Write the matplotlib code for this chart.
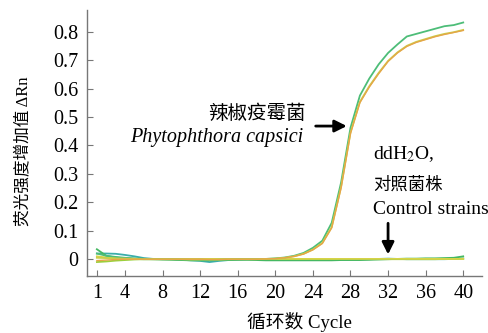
import matplotlib
matplotlib.use('Agg')
import matplotlib.pyplot as plt

plt.rcParams['font.family'] = ['Liberation Serif', 'Noto Sans CJK SC']
plt.rcParams['mathtext.fontset'] = 'stix'

# cycles 1..40
cycles = list(range(1, 41))

# amplification curves (Phytophthora capsici)
green_amp = [0.020, 0.012, 0.008, 0.005, 0.003, 0.001, 0.000, 0.000, 0.000, -0.001,
             -0.002, -0.002, -0.003, -0.002, -0.001, 0.000, 0.000, 0.000, 0.001, 0.003,
             0.006, 0.012, 0.022, 0.040, 0.065, 0.128, 0.270, 0.462, 0.575, 0.635,
             0.685, 0.725, 0.755, 0.783, 0.792, 0.801, 0.810, 0.819, 0.823, 0.832]
yellow_amp = [0.005, 0.004, 0.003, 0.002, 0.001, 0.000, 0.000, 0.000, 0.000, 0.000,
              -0.001, -0.001, -0.001, -0.001, 0.000, 0.000, 0.000, 0.000, 0.001, 0.002,
              0.005, 0.010, 0.019, 0.034, 0.057, 0.113, 0.255, 0.445, 0.553, 0.608,
              0.655, 0.697, 0.727, 0.750, 0.764, 0.774, 0.784, 0.792, 0.798, 0.806]
orange_amp = [-0.005, -0.003, -0.001, 0.000, 0.000, 0.000, 0.000, 0.000, 0.000, 0.000,
              0.000, 0.000, -0.001, -0.001, 0.000, 0.000, 0.000, 0.000, 0.001, 0.002,
              0.005, 0.010, 0.018, 0.033, 0.055, 0.110, 0.250, 0.442, 0.550, 0.605,
              0.652, 0.695, 0.725, 0.748, 0.762, 0.772, 0.782, 0.790, 0.797, 0.804]

# controls (ddH2O / control strains)
ctrl_teal = [0.020, 0.020, 0.019, 0.015, 0.010, 0.004, 0.001, 0.000, 0.000, -0.002,
             -0.004, -0.006, -0.010, -0.006, -0.003, -0.002, -0.001, 0.000, 0.000, -0.002,
             -0.003, -0.003, -0.003, -0.003, -0.002, -0.002, -0.001, 0.000, 0.000, 0.000,
             0.001, 0.002, 0.001, 0.000, 0.000, 0.000, 0.000, 0.000, 0.001, 0.002]
ctrl_green = [0.035, 0.012, 0.006, 0.003, 0.001, 0.000, 0.000, -0.001, -0.002, -0.003,
              -0.004, -0.004, -0.004, -0.003, -0.003, -0.002, -0.002, -0.003, -0.004, -0.004,
              -0.004, -0.004, -0.004, -0.004, -0.004, -0.004, -0.003, -0.003, -0.003, -0.002,
              -0.001, 0.000, 0.001, 0.002, 0.002, 0.003, 0.003, 0.004, 0.005, 0.010]
ctrl_lime = [-0.010, -0.008, -0.005, -0.003, -0.001, 0.000, 0.000, 0.000, 0.000, 0.000,
             0.000, 0.000, 0.000, 0.000, 0.000, 0.000, 0.000, 0.000, 0.000, 0.000,
             0.000, 0.000, 0.000, 0.000, 0.000, 0.000, 0.000, 0.000, 0.000, 0.000,
             0.000, 0.000, 0.000, 0.000, 0.000, 0.000, 0.000, 0.001, 0.001, 0.002]
ctrl_yellow = [0.010, 0.006, 0.004, 0.002, 0.001, 0.001, 0.001, 0.001, 0.001, 0.001,
               0.001, 0.001, 0.001, 0.001, 0.001, 0.001, 0.001, 0.001, 0.001, 0.001,
               0.001, 0.001, 0.001, 0.001, 0.001, 0.001, 0.001, 0.001, 0.001, 0.001,
               0.001, 0.001, 0.001, 0.001, 0.001, 0.001, 0.001, 0.001, 0.001, 0.001]

xticks = [1, 4, 8, 12, 16, 20, 24, 28, 32, 36, 40]
yticks = [0, 0.1, 0.2, 0.3, 0.4, 0.5, 0.6, 0.7, 0.8]

fig = plt.figure(figsize=(4.88, 3.33), dpi=100)
ax = fig.add_axes([0.1783, 0.1712, 0.8094, 0.7988])

ax.plot(cycles, ctrl_teal, color='#3aaeaa', lw=1.3)
ax.plot(cycles, ctrl_lime, color='#9ccf3c', lw=1.3)
ax.plot(cycles, ctrl_green, color='#45b862', lw=1.3)
ax.plot(cycles, ctrl_yellow, color='#d8d448', lw=1.3)
ax.plot(cycles, green_amp, color='#4dbd78', lw=1.3)
ax.plot(cycles, yellow_amp, color='#c9cf4a', lw=1.3)
ax.plot(cycles, orange_amp, color='#e6a548', lw=1.0)

ax.set_xlim(-0.05, 42)
ax.set_ylim(-0.059, 0.876)
ax.set_xticks(xticks)
ax.set_xticklabels([str(t) for t in xticks])
ax.set_yticks(yticks)
ax.set_yticklabels(['0'] + ['%.1f' % t for t in yticks[1:]])

for s in ['top', 'right']:
    ax.spines[s].set_visible(False)
for s in ['left', 'bottom']:
    ax.spines[s].set_color('#777777')
    ax.spines[s].set_linewidth(1.0)
ax.tick_params(direction='in', length=4, width=0.8, color='#777777',
               labelsize=14.5, pad=6)

ax.set_xlabel('循环数 Cycle', fontsize=13.5, va='center')
ax.xaxis.set_label_coords(0.537, -0.173)
ax.set_ylabel('荧光强度增加值 ΔRn', fontsize=12, va='center')
ax.yaxis.set_label_coords(-0.162, 0.47)

ax.text(23.2, 0.51, '辣椒疫霉菌', fontsize=14, ha='right', va='center')
ax.text(23.0, 0.427, 'Phytophthora capsici', fontsize=14.5, style='italic',
        ha='right', va='center')
ax.annotate('', xy=(27.9, 0.468), xytext=(24.0, 0.468),
            arrowprops=dict(arrowstyle='-|>', color='black', lw=2, mutation_scale=18))

ax.text(30.4, 0.371, 'ddH$_2$O,', fontsize=14, ha='left', va='center')
ax.text(30.4, 0.259, '对照菌株', fontsize=12.5, ha='left', va='center')
ax.text(30.4, 0.175, 'Control strains', fontsize=14, ha='left', va='center')
ax.annotate('', xy=(32.0, 0.007), xytext=(32.0, 0.136),
            arrowprops=dict(arrowstyle='-|>', color='black', lw=2, mutation_scale=18))

fig.savefig('out.png', dpi=100)
